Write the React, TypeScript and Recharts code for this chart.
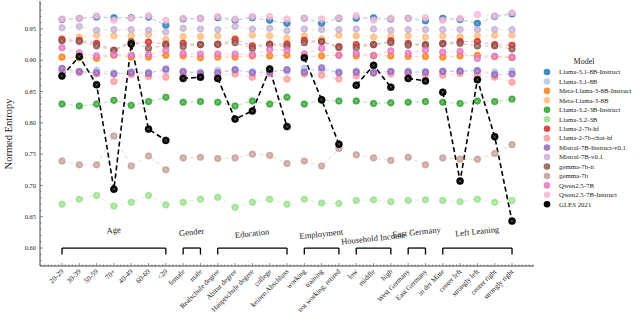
import React from 'react';
import { LineChart, Line, XAxis, YAxis, ReferenceLine, ReferenceDot } from 'recharts';

const categories = ['20-29','30-39','50-59','70+','40-49','60-69','<20','female','male','Realschule degree','Abitur degree','Hauptschule degree','college','keinen Abschluss','working','training','not working, retired','low','middle','high','West Germany','East Germany','in der Mitte','center left','strongly left','center right','strongly right'];
const groupNames = ['Age','Gender','Education','Employment','Household Income','East Germany','Left Leaning'];
const groupSizes = [7,2,5,3,3,2,5];
const yTicksMajor = [0.6,0.65,0.7,0.75,0.8,0.85,0.9,0.95];

const llama31Instruct = [0.965,0.967,0.969,0.968,0.968,0.969,0.956, 0.966,0.967, 0.968,0.964,0.968,0.964,0.959, 0.967,0.959,0.967, 0.967,0.968,0.966, 0.967,0.963,0.967,0.965,0.959,0.970,0.974];
const llama31 = [0.883,0.882,0.884,0.880,0.882,0.881,0.883, 0.882,0.881, 0.884,0.883,0.882,0.883,0.882, 0.887,0.884,0.882, 0.883,0.884,0.882, 0.883,0.882,0.883,0.882,0.884,0.881,0.883];
const metaLlama3Instruct = [0.905,0.904,0.903,0.908,0.905,0.905,0.908, 0.907,0.904, 0.905,0.905,0.907,0.907,0.908, 0.905,0.907,0.908, 0.907,0.907,0.907, 0.906,0.906,0.905,0.907,0.908,0.906,0.904];
const metaLlama3 = [0.935,0.937,0.940,0.939,0.939,0.941,0.933, 0.938,0.938, 0.939,0.935,0.940,0.939,0.935, 0.939,0.934,0.940, 0.939,0.937,0.938, 0.939,0.937,0.939,0.937,0.939,0.940,0.940];
const llama32Instruct = [0.830,0.827,0.830,0.836,0.828,0.834,0.841, 0.833,0.834, 0.833,0.827,0.835,0.830,0.841, 0.830,0.836,0.835, 0.835,0.831,0.832, 0.833,0.834,0.833,0.831,0.835,0.834,0.838];
const llama32 = [0.670,0.678,0.684,0.667,0.673,0.684,0.669, 0.673,0.678, 0.681,0.665,0.673,0.678,0.670, 0.678,0.672,0.671, 0.676,0.677,0.674, 0.676,0.677,0.676,0.674,0.678,0.673,0.676];
const llama2 = [0.933,0.932,0.927,0.916,0.928,0.929,0.926, 0.927,0.925, 0.926,0.933,0.923,0.926,0.926, 0.932,0.930,0.922, 0.925,0.925,0.931, 0.927,0.925,0.927,0.930,0.930,0.925,0.924];
const llama2Chat = [0.882,0.880,0.878,0.866,0.877,0.874,0.873, 0.876,0.878, 0.876,0.878,0.873,0.879,0.870, 0.878,0.876,0.870, 0.875,0.879,0.878, 0.878,0.877,0.876,0.879,0.876,0.873,0.865];
const mistralInstruct = [0.887,0.882,0.880,0.878,0.880,0.879,0.886, 0.882,0.879, 0.880,0.885,0.880,0.881,0.885, 0.881,0.888,0.880, 0.881,0.880,0.882, 0.881,0.881,0.882,0.883,0.883,0.877,0.878];
const mistral = [0.952,0.954,0.948,0.949,0.949,0.948,0.945, 0.951,0.950, 0.949,0.954,0.950,0.951,0.947, 0.950,0.949,0.949, 0.950,0.950,0.948, 0.949,0.949,0.949,0.949,0.949,0.949,0.949];
const gemmaIt = [0.931,0.930,0.923,0.916,0.930,0.919,0.924, 0.922,0.925, 0.925,0.928,0.919,0.925,0.922, 0.928,0.930,0.920, 0.920,0.925,0.928, 0.924,0.924,0.926,0.927,0.923,0.923,0.918];
const gemma = [0.739,0.733,0.733,0.779,0.731,0.747,0.725, 0.744,0.745, 0.743,0.744,0.750,0.748,0.735, 0.739,0.731,0.759, 0.749,0.744,0.740, 0.745,0.733,0.744,0.742,0.742,0.751,0.765];
const qwen = [0.920,0.912,0.907,0.909,0.908,0.909,0.916, 0.911,0.910, 0.910,0.910,0.909,0.917,0.916, 0.910,0.919,0.908, 0.911,0.908,0.915, 0.911,0.916,0.913,0.914,0.903,0.906,0.905];
const qwenInstruct = [0.966,0.967,0.971,0.964,0.967,0.971,0.964, 0.967,0.967, 0.970,0.966,0.970,0.970,0.966, 0.967,0.966,0.968, 0.971,0.964,0.967, 0.967,0.968,0.964,0.967,0.973,0.971,0.976];
const gles = [0.875,0.906,0.861,0.694,0.926,0.790,0.772, 0.871,0.873, 0.871,0.806,0.819,0.886,0.794, 0.904,0.837,0.766, 0.860,0.892,0.857, 0.871,0.867,0.849,0.707,0.869,0.778,0.643];

const seriesNames = ['Llama-3.1-8B-Instruct','Llama-3.1-8B','Meta-Llama-3-8B-Instruct','Meta-Llama-3-8B','Llama-3.2-3B-Instruct','Llama-3.2-3B','Llama-2-7b-hf','Llama-2-7b-chat-hf','Mistral-7B-Instruct-v0.1','Mistral-7B-v0.1','gemma-7b-it','gemma-7b','Qwen2.5-7B','Qwen2.5-7B-Instruct','GLES 2021'];
const seriesValues = [llama31Instruct, llama31, metaLlama3Instruct, metaLlama3, llama32Instruct, llama32, llama2, llama2Chat, mistralInstruct, mistral, gemmaIt, gemma, qwen, qwenInstruct, gles];
const seriesColors = ['#1f77b4','#aec7e8','#ff7f0e','#ffbb78','#2ca02c','#98df8a','#d62728','#ff9896','#9467bd','#c5b0d5','#8c564b','#c49c94','#e377c2','#f7b6d2','#000000'];

const FONT = '"Liberation Serif", "DejaVu Serif", serif';

// build rows with null gap rows between groups
const groupStarts: number[] = [];
{
  let s = 0;
  groupSizes.forEach((n) => { groupStarts.push(s); s += n; });
}
const rows: any[] = [];
groupSizes.forEach((n, g) => {
  const s = groupStarts[g];
  for (let i = s; i < s + n; i++) {
    const r: any = { x: i };
    seriesNames.forEach((nm, k) => { r['s' + k] = seriesValues[k][i]; });
    rows.push(r);
  }
  if (g < groupSizes.length - 1) {
    const r: any = { x: s + n - 0.5 };
    seriesNames.forEach((nm, k) => { r['s' + k] = null; });
    rows.push(r);
  }
});

const xTicks: number[] = [];
for (let v = -1.2; v <= 27.21; v += 0.2) xTicks.push(Math.round(v * 10) / 10);
const yTicks: number[] = [];
for (let v = 0.58; v <= 0.991; v += 0.01) yTicks.push(Math.round(v * 100) / 100);

const isInt = (v: number) => Math.abs(v - Math.round(v)) < 1e-6;
const isMajorY = (v: number) => yTicksMajor.some((m) => Math.abs(m - v) < 1e-6);

const makeDot = (color: string, big: boolean) => (props: any) => {
  const { cx, cy, index, value } = props;
  if (cx == null || cy == null || value == null || isNaN(cy)) return <g key={'d' + index} />;
  const r = big ? 3.5 : 3.3;
  const a = 1.5;
  return (
    <g key={'d' + index}>
      <circle cx={cx} cy={cy} r={r} fill={color} fillOpacity={big ? 1 : 0.85} stroke={color} strokeOpacity={big ? 1 : 0.9} strokeWidth={0.6} />
      <path d={`M${cx - a},${cy - a}L${cx + a},${cy + a}M${cx - a},${cy + a}L${cx + a},${cy - a}`} stroke="#ffffff" strokeOpacity={big ? 0.45 : 0.4} strokeWidth={0.7} />
    </g>
  );
};

const BottomTick = (props: any) => {
  const { x, y, payload } = props;
  const v = payload.value;
  const major = isInt(v) && v >= 0 && v <= 26;
  const len = major ? 3 : 1.5;
  return (
    <g>
      <line x1={x} y1={y} x2={x} y2={y - len} stroke="#444" strokeWidth={0.6} />
      {major ? (
        <text x={x + 2} y={y + 6} textAnchor="end" fontSize={7.2} fontFamily={FONT} fill="#222" transform={`rotate(-45 ${x + 2} ${y + 6})`}>
          {categories[Math.round(v)]}
        </text>
      ) : null}
    </g>
  );
};
const TopTick = (props: any) => {
  const { x, y, payload } = props;
  const v = payload.value;
  const major = isInt(v) && v >= 0 && v <= 26;
  const len = major ? 3 : 1.5;
  return <line x1={x} y1={y} x2={x} y2={y + len} stroke="#444" strokeWidth={0.6} />;
};
const LeftTick = (props: any) => {
  const { x, y, payload } = props;
  const v = payload.value;
  const major = isMajorY(v);
  const len = major ? 3 : 1.5;
  return (
    <g>
      <line x1={x} y1={y} x2={x + len} y2={y} stroke="#444" strokeWidth={0.6} />
      {major ? (
        <text x={x - 4} y={y + 2.2} textAnchor="end" fontSize={6.5} fontFamily={FONT} fill="#222">{v.toFixed(2)}</text>
      ) : null}
    </g>
  );
};
const RightTick = (props: any) => {
  const { x, y, payload } = props;
  const v = payload.value;
  const major = isMajorY(v);
  const len = major ? 3 : 1.5;
  return <line x1={x} y1={y} x2={x - len} y2={y} stroke="#444" strokeWidth={0.6} />;
};

const labelLift = [0.024, 0.021, 0.019, 0.018, 0.011, 0.021, 0.022];

export default function App() {
  return (
    <div style={{ position: 'absolute', left: 0, top: 0, width: 640, height: 329, background: '#fff', overflow: 'hidden' }}>
      <LineChart width={640} height={329} data={rows} margin={{ top: 1, right: 106, bottom: 0, left: 0 }}>
        <XAxis xAxisId="b" dataKey="x" type="number" domain={[-1.27, 27.27]} ticks={xTicks} interval={0} tickSize={0} tickMargin={0} tickLine={false} height={63} allowDataOverflow axisLine={{ stroke: '#444', strokeWidth: 1 }} tick={<BottomTick />} />
        <XAxis xAxisId="t" dataKey="x" type="number" orientation="top" domain={[-1.27, 27.27]} ticks={xTicks} interval={0} tickSize={0} tickMargin={0} tickLine={false} height={0} allowDataOverflow axisLine={{ stroke: '#444', strokeWidth: 1 }} tick={<TopTick />} />
        <YAxis yAxisId="l" type="number" domain={[0.5713, 0.9947]} ticks={yTicks} interval={0} tickSize={0} tickMargin={0} tickLine={false} width={40} allowDataOverflow axisLine={{ stroke: '#444', strokeWidth: 1 }} tick={<LeftTick />} />
        <YAxis yAxisId="r" type="number" orientation="right" domain={[0.5713, 0.9947]} ticks={yTicks} interval={0} tickSize={0} tickMargin={0} tickLine={false} width={0} allowDataOverflow axisLine={{ stroke: '#444', strokeWidth: 1 }} tick={<RightTick />} />
        {seriesNames.map((nm, k) => {
          const isG = k === seriesNames.length - 1;
          return (
            <Line
              key={nm}
              xAxisId="b"
              yAxisId="l"
              dataKey={'s' + k}
              name={nm}
              stroke={seriesColors[k]}
              strokeOpacity={isG ? 1 : 0.3}
              strokeWidth={isG ? 1.6 : 1.2}
              strokeDasharray={isG ? '5 3' : '4 3'}
              dot={makeDot(seriesColors[k], isG)}
              activeDot={false}
              isAnimationActive={false}
              connectNulls={false}
            />
          );
        })}
        {groupSizes.map((n, g) => {
          const a = groupStarts[g];
          const b = a + n - 1;
          return (
            <React.Fragment key={'br' + g}>
              <ReferenceLine xAxisId="b" yAxisId="l" segment={[{ x: a, y: 0.6 }, { x: b, y: 0.6 }]} stroke="#000" strokeWidth={1.3} />
              <ReferenceLine xAxisId="b" yAxisId="l" segment={[{ x: a, y: 0.6 }, { x: a, y: 0.5895 }]} stroke="#000" strokeWidth={1.3} />
              <ReferenceLine xAxisId="b" yAxisId="l" segment={[{ x: b, y: 0.6 }, { x: b, y: 0.5895 }]} stroke="#000" strokeWidth={1.3} />
              <ReferenceDot
                xAxisId="b"
                yAxisId="l"
                x={(a + b) / 2}
                y={0.6 + labelLift[g]}
                r={0}
                shape={(p: any) => (
                  <text x={p.cx} y={p.cy} textAnchor="middle" fontSize={8.5} fontFamily={FONT} fill="#222" transform={`rotate(-6 ${p.cx} ${p.cy})`}>
                    {groupNames[g]}
                  </text>
                )}
              />
            </React.Fragment>
          );
        })}
        <text x={12} y={134} textAnchor="middle" fontSize={10.5} fontFamily={FONT} fill="#222" transform="rotate(-90 12 134)">Normed Entropy</text>
      </LineChart>
      <svg width={100} height={170} style={{ position: 'absolute', left: 540, top: 52 }}>
        <text x={44} y={12} textAnchor="middle" fontSize={8} fontFamily={FONT} fill="#222">Model</text>
        {seriesNames.map((nm, k) => {
          const cy = 20 + k * 9.45;
          const isG = k === seriesNames.length - 1;
          return (
            <g key={nm}>
              <circle cx={7} cy={cy} r={3.3} fill={seriesColors[k]} fillOpacity={isG ? 1 : 0.85} />
              <text x={19} y={cy + 2.3} fontSize={6.8} fontFamily={FONT} fill="#222">{nm}</text>
            </g>
          );
        })}
      </svg>
    </div>
  );
}
